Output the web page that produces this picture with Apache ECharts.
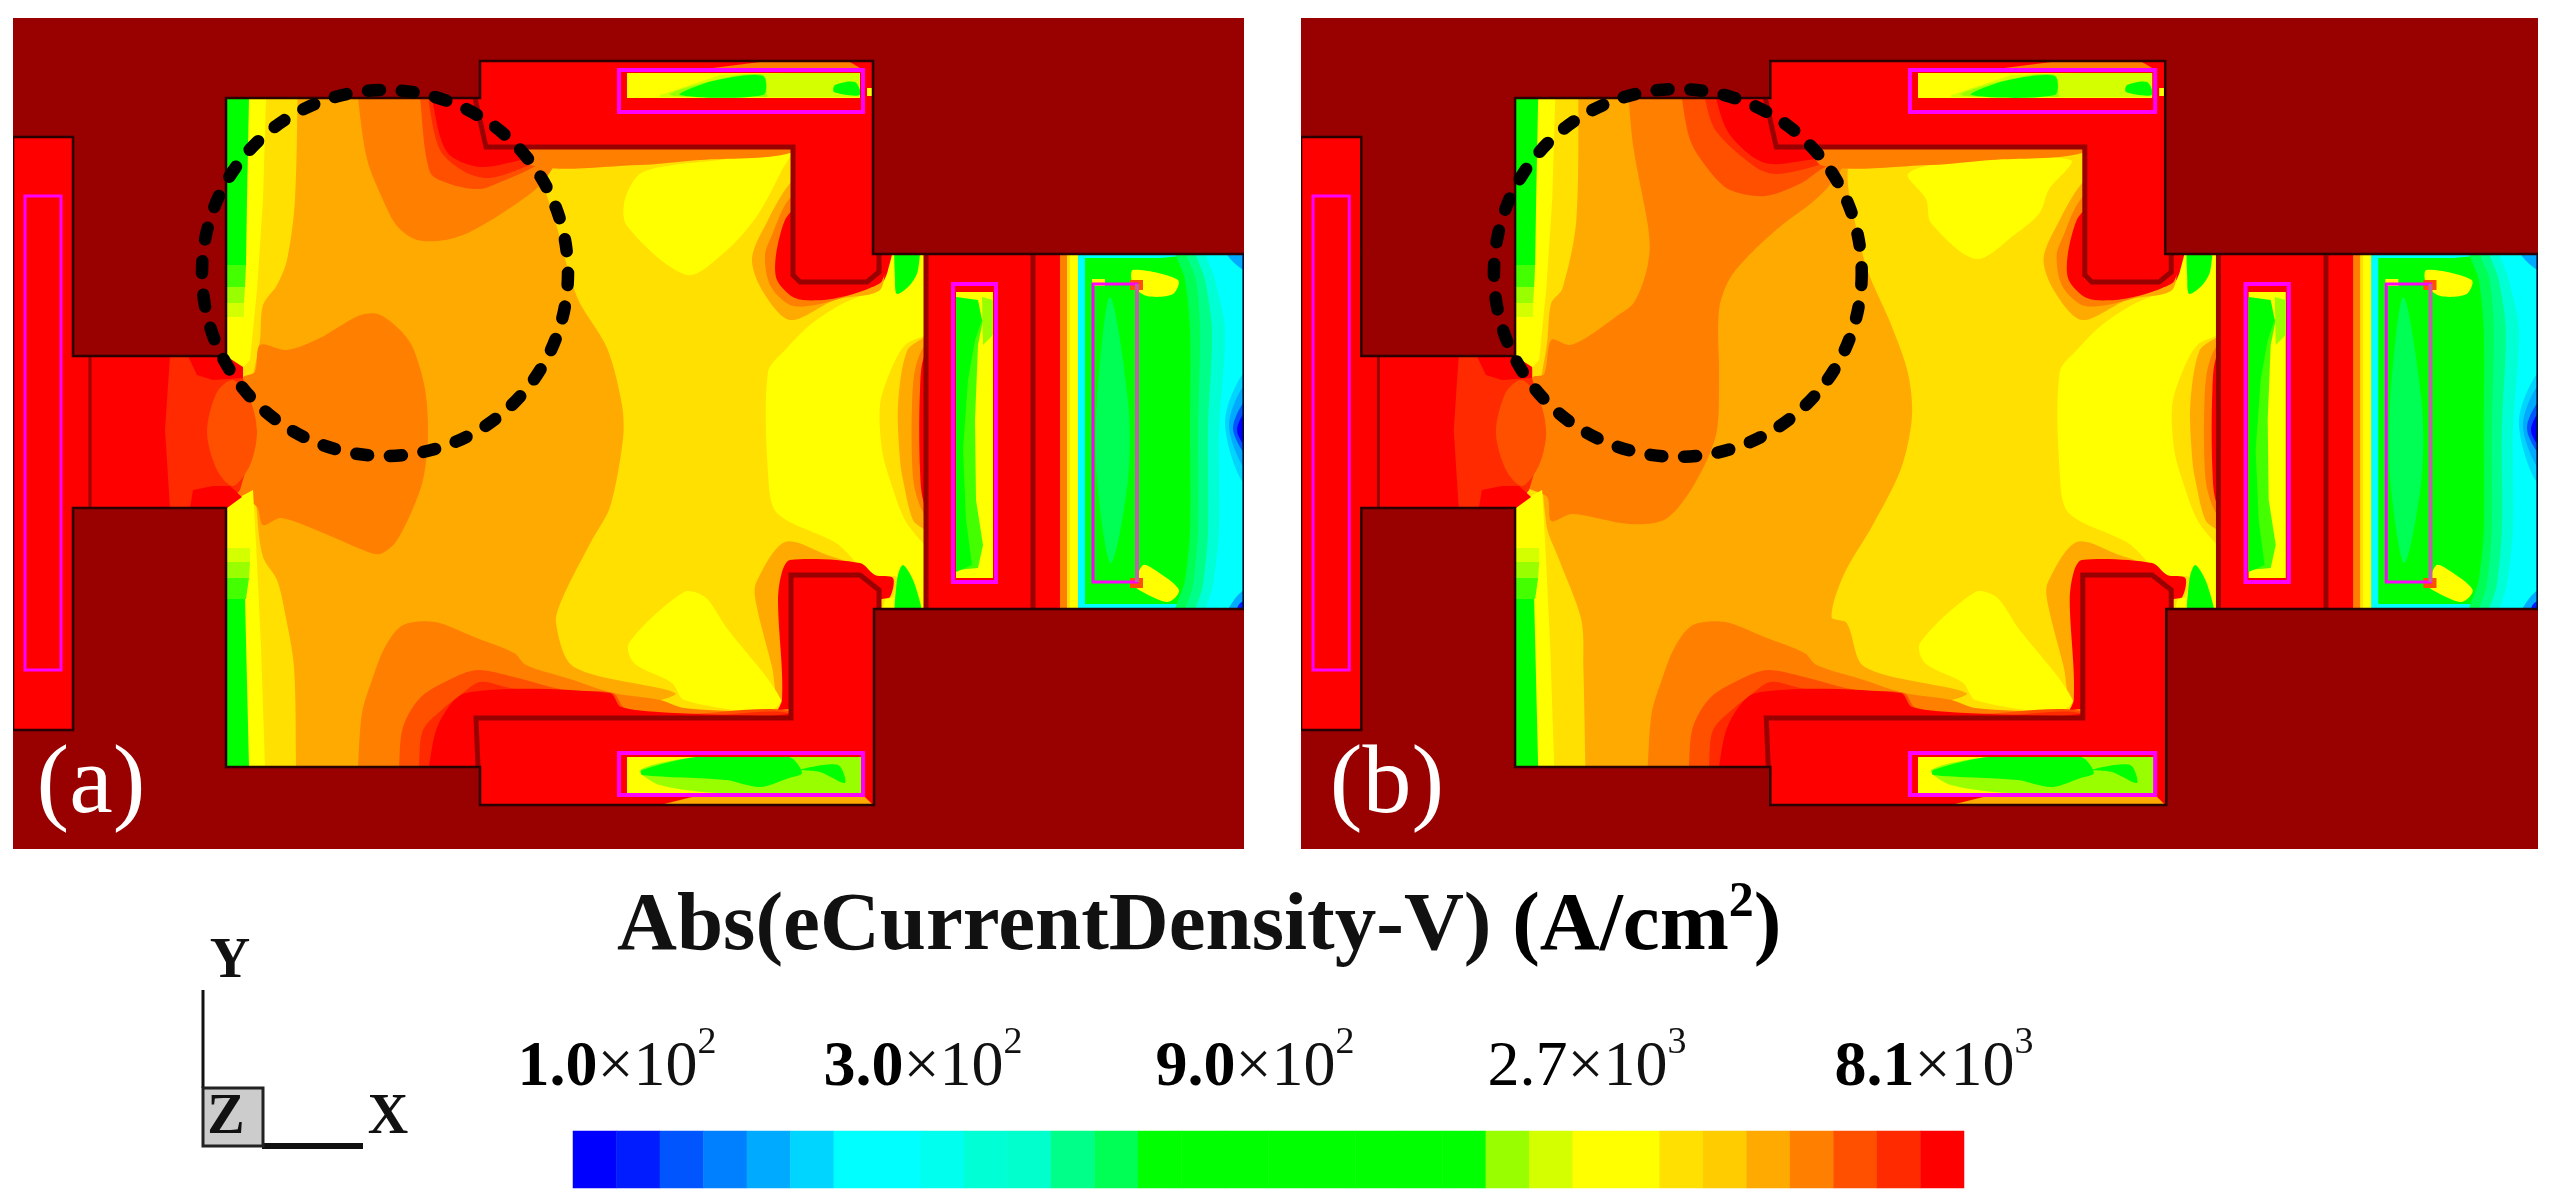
<!DOCTYPE html>
<html>
<head>
<meta charset="utf-8">
<title>Abs(eCurrentDensity-V)</title>
<script src="https://cdn.jsdelivr.net/npm/echarts@6/dist/echarts.min.js"></script>
<style>
html,body{margin:0;padding:0;background:#fff}
#chart{width:2556px;height:1203px;filter:blur(0.7px)}
</style>
</head>
<body>
<div id="chart"></div>
<script>
// colour bar, 32 levels, low to high
const barLevels = [0,1,2,3,4,5,6,7,8,9,10,11,12,13,14,15,16,17,18,19,20,21,22,23,24,25,26,27,28,29,30,31];
const levelColors = ['#0000FF','#001CFF','#0055FF','#0080FF','#00AAFF','#00D5FF','#00FFFF','#00FFFF','#00FFEE','#00FFD5','#00FFCC','#00FF88','#00FF55',
  '#00FF00','#00FF00','#00FF00','#00FF00','#00FF00','#00FF00','#00FF00','#00FF00','#99FF00','#D4FF00','#FFFF00','#FFFF00','#FFE000','#FFCC00','#FFAA00','#FF7F00','#FF5000','#FF2A00','#FF0000'];
const tickMantissas = ['1.0','3.0','9.0','2.7','8.1'];
const tickExponents = ['2','2','2','3','3'];
const tickCenters = [617,923,1255,1587,1934];
const panelTags = ['(a)','(b)'];

// outlines of the device, in the pixel frame of panel (a)
const bodyOutline = [[13,137],[73,137],[73,356],[226,356],[226,98],[480,98],[480,61],[873,61],[873,254],[1244,254],[1244,609],[874,609],[874,805],[480,805],[480,767],[226,767],[226,508],[73,508],[73,730],[13,730]];
const cavityOutline = [[226,98],[475,98],[486,147],[793,147],[793,280],[870,280],[879,270],[879,254],[926,254],[926,609],[879,609],[879,590],[860,575],[791,575],[791,718],[476,718],[476,767],[226,767]];
const guideBox = [[1034,254],[1244,254],[1244,609],[1034,609]];

// field contours, panel (a); points outside the cavity get clipped away
const amberA = [[298,70],[298,98],[560,70],[548,130],[540,168],[555,220],[577,297],[607,348],[622,405],[623,439],[610,507],[592,540],[563,597],[556,623],[574,667],[675,693],[640,705],[480,730],[476,800],[296,800],[296,767],[294,667],[285,613],[277,580],[263,557],[257,513],[250,400],[260,340],[263,305],[277,285],[287,260],[295,200]];
const orangeMidA = [[260,345],[287,350],[320,338],[358,316],[378,314],[400,330],[413,348],[425,389],[428,436],[423,480],[411,513],[395,543],[380,554],[368,552],[316,530],[281,518],[263,525],[257,507],[237,490],[257,432],[243,378],[255,372]];
const orangeTopA = [[356,70],[358,98],[367,159],[383,200],[397,226],[417,240],[445,240],[470,232],[513,206],[543,182],[560,150],[560,70]];
const ember1TopA = [[418,70],[420,98],[430,172],[450,184],[480,189],[503,181],[530,169],[560,150],[560,70]];
const ember2TopA = [[425,70],[428,98],[440,150],[465,172],[490,178],[530,165],[560,150],[560,70]];
const redTopA = [[430,70],[432,98],[447,152],[480,167],[530,159],[627,159],[663,157],[720,154],[790,150],[800,130],[800,70]];
const yellowTopA = [[643,172],[625,199],[627,226],[687,275],[727,250],[757,216],[782,170],[790,152],[720,160]];

// field contours, panel (b)
const amberB = [[289,70],[289,98],[570,70],[560,140],[557,181],[564,221],[577,271],[600,324],[617,373],[621,417],[610,469],[582,525],[553,575],[541,617],[556,623],[574,667],[675,693],[640,705],[480,730],[476,800],[296,800],[296,767],[294,667],[292,620],[270,560],[257,524],[250,400],[258,342],[262,303],[273,289],[287,220]];
const orangeMidB = [[337,70],[339,98],[344,149],[358,224],[360,249],[356,274],[344,303],[326,317],[298,337],[280,345],[262,340],[255,374],[243,378],[257,432],[237,485],[258,497],[262,521],[283,514],[340,524],[376,519],[404,485],[426,435],[429,381],[429,310],[440,278],[465,249],[493,224],[521,203],[539,185],[560,150],[560,70]];
const ember1TopB = [[390,70],[392,98],[401,142],[422,174],[440,190],[475,196],[511,183],[528,171],[560,150],[560,70]];
const ember2TopB = [[413,70],[415,98],[426,131],[465,167],[486,174],[528,165],[560,150],[560,70]];
const redTopB = [[424,70],[426,98],[440,135],[475,163],[528,159],[640,158],[720,154],[790,150],[800,130],[800,70]];
const yellowTopB = [[617,174],[660,162],[779,160],[757,190],[748,213],[724,234],[685,259],[640,223],[635,199]];

// field contours, both panels
const wallBandTop = [[530,165],[640,165],[700,160],[790,153],[800,130],[530,130]];
const amberWallUp = [[795,180],[785,190],[768,220],[752,258],[762,290],[790,320],[835,300],[880,290],[880,260],[800,260]];
const orangeWallUp = [[795,195],[785,205],[772,235],[765,255],[770,285],[790,305],[815,305],[850,295],[880,280],[880,260],[800,260]];
const redWallUp = [[795,210],[785,220],[776,255],[777,280],[795,298],[823,300],[850,295],[870,288],[882,281],[885,260],[800,260]];
const throatStub = [[876,240],[893,240],[888,270],[882,283],[872,285]];
const yellowBig = [[768,372],[785,350],[810,325],[840,305],[872,290],[885,275],[885,230],[950,230],[950,630],[885,630],[885,600],[893,597],[897,577],[875,577],[861,567],[836,543],[777,513],[768,473]];
const greenThroatUp = [[897,240],[918,240],[918,270],[910,285],[897,294],[895,280]];
const greenThroatLo = [[897,625],[897,580],[903,565],[915,585],[922,625]];
const lensGold = [[945,320],[925,335],[905,345],[890,372],[880,405],[882,450],[890,480],[905,520],[925,545],[945,560]];
const lensAmber = [[945,325],[925,337],[907,351],[898,405],[900,460],[903,480],[913,520],[925,530],[945,545]];
const lensOrange = [[945,335],[925,345],[915,370],[912,405],[912,460],[915,490],[925,515],[945,530]];
const lensRed = [[945,345],[925,355],[920,390],[920,470],[925,505],[945,520]];
const yellowLow = [[629,643],[684,592],[705,597],[726,627],[781,700],[764,712],[684,700],[672,683],[634,663]];
const amberWallLo = [[785,542],[756,583],[756,603],[772,667],[781,707],[810,707],[810,590],[870,590],[865,570],[827,555]];
const redWallLo = [[790,560],[860,563],[875,575],[893,578],[890,597],[880,600],[875,620],[810,620],[810,725],[770,725],[782,700],[778,600],[782,572]];
const orangeLow = [[356,800],[358,767],[362,713],[372,680],[385,647],[403,625],[435,622],[474,637],[514,653],[526,665],[573,680],[613,693],[660,700],[684,708],[764,712],[800,712],[800,800]];
const ember1Low = [[397,800],[399,767],[403,727],[421,697],[455,677],[478,670],[514,677],[565,690],[613,693],[625,708],[680,714],[800,716],[800,800]];
const ember2Low = [[417,800],[419,767],[423,730],[445,707],[458,697],[480,682],[510,688],[553,693],[613,700],[625,712],[700,716],[800,718],[800,800]];
const redLow = [[427,800],[429,767],[439,723],[466,693],[610,693],[621,707],[675,713],[770,716],[800,717],[800,800]];
const yellowBandUp = [[226,98],[266,98],[263,200],[257,290],[250,360],[243,368],[226,356]];
const greenBandUp = [[226,98],[249,98],[247,200],[246,265],[226,265]];
const lime1Up = [[226,265],[246,265],[245,287],[226,287]];
const lime2Up = [[226,287],[245,287],[244,303],[226,303]];
const lime3Up = [[226,303],[244,303],[244,317],[226,317]];
const yellowBandLo = [[226,508],[240,497],[253,490],[257,563],[261,647],[265,767],[226,767]];
const lime3Lo = [[226,548],[250,548],[250,562],[226,562]];
const lime2Lo = [[226,562],[250,562],[249,578],[226,578]];
const lime1Lo = [[226,578],[249,578],[246,599],[226,599]];
const greenBandLo = [[226,599],[245,599],[249,767],[226,767]];
const coaxEmber2 = [[170,356],[226,356],[243,370],[243,378],[257,432],[240,490],[226,508],[170,508],[165,430]];
const coaxLens = [[207,432],[217,392],[233,380],[250,400],[257,432],[250,465],[233,486],[217,470]];
const coaxSpikeUp = [[188,356],[197,375],[213,380],[243,378],[243,367],[226,356]];
const coaxSpikeLo = [[190,508],[193,490],[213,486],[230,486],[242,497],[227,508]];

// guide section at the right
const guideOrange = [[1060,254],[1244,254],[1244,609],[1060,609]];
const guideGold = [[1067,254],[1244,254],[1244,609],[1067,609]];
const guideYellow = [[1070,254],[1244,254],[1244,609],[1070,609]];
const guideCyan = [[1078,254],[1244,254],[1244,609],[1078,609]];
const guideGreen = [[1085,258],[1160,258],[1203,254],[1244,254],[1244,604],[1200,604],[1085,604]];
const edgeBand1 = [[1175,240],[1185,280],[1190,330],[1190,430],[1190,530],[1185,580],[1175,625],[1270,625],[1270,240]];
const edgeBand2 = [[1185,240],[1196,280],[1200,330],[1198,430],[1198,530],[1193,585],[1185,625],[1270,625],[1270,240]];
const edgeBand3 = [[1195,240],[1205,280],[1212,330],[1208,430],[1208,530],[1203,585],[1195,625],[1270,625],[1270,240]];
const edgeBand4 = [[1205,240],[1215,280],[1225,330],[1219,430],[1219,530],[1213,585],[1205,625],[1270,625],[1270,240]];
const edgeBlue1 = [[1260,362],[1240,378],[1225,422],[1240,478],[1260,490]];
const edgeBlue2 = [[1260,375],[1242,388],[1229,425],[1242,465],[1260,480]];
const edgeBlue3 = [[1260,388],[1245,400],[1233,428],[1245,455],[1260,470]];
const edgeBlue4 = [[1260,400],[1246,410],[1237,430],[1246,448],[1260,460]];
const cornerBlueUp = [[1222,240],[1228,256],[1244,270],[1260,270],[1260,240]];
const cornerBlueLo = [[1222,625],[1230,606],[1244,590],[1260,590],[1260,625]];
const cornerDeepLo = [[1236,625],[1238,606],[1246,600],[1260,600],[1260,625]];
const innerLens = [[1110,297],[1097,400],[1097,480],[1111,563],[1128,480],[1128,400]];
const blobUp = [[1133,270],[1178,280],[1173,294],[1147,296],[1133,285]];
const blobUpRed = [[1130,280],[1143,280],[1143,290],[1130,290]];
const blobLo = [[1143,565],[1155,570],[1179,590],[1168,602],[1139,590],[1135,585]];
const blobLoRed = [[1130,578],[1143,578],[1143,588],[1130,588]];
const stubYellow = [[1092,279],[1105,279],[1105,286],[1092,286]];

// slots
const midSlotYellow = [[956,292],[993,292],[993,578],[956,578]];
const midSlotLime = [[983,320],[978,345],[975,420],[976,500],[983,545],[978,568],[956,570],[956,300]];
const midSlotGreen = [[956,297],[978,300],[982,320],[975,340],[968,380],[963,450],[966,520],[972,565],[956,572]];
const midSlotTip = [[982,297],[993,300],[993,335],[983,345]];
const topSlotFill = [[627,73],[860,73],[860,98],[627,98]];
const topSlotLime1 = [[660,95],[720,75],[790,73],[860,73],[860,97],[660,97]];
const topSlotLime2 = [[670,95],[715,80],[763,75],[767,95],[767,97]];
const topSlotGreen = [[680,95],[713,81],[763,76],[763,95]];
const topSlotGreen2 = [[834,92],[835,85],[855,82],[860,95]];
const topSlotGlow = [[713,68],[760,62],[850,62],[860,68]];
const topSlotDot = [[867,88],[873,88],[873,96],[867,96]];
const lowSlotFill = [[627,757],[862,757],[862,793],[627,793]];
const lowSlotLime1 = [[700,757],[862,757],[862,793],[720,793],[660,785],[640,770]];
const lowSlotGreen = [[642,770],[697,757],[789,757],[802,773],[789,778],[760,787],[726,780],[642,775]];
const lowSlotGreen2 = [[800,770],[838,765],[845,783],[820,772]];
const lowSlotGlow = [[700,795],[863,795],[873,805],[660,805]];

// thin lines
const wallUp = [[475,98],[486,147],[793,147],[793,275],[800,282],[867,282],[879,272],[879,254]];
const wallLo = [[879,609],[879,590],[860,575],[791,575],[791,718],[476,718],[478,767]];
const coaxStep = [[90,356],[90,508]];
const guideStep1 = [[926,254],[926,609]];
const guideStep2 = [[1033,254],[1033,609]];
const guideEnd = [[1244,254],[1244,609]];
const leftFrame = [[25,196],[61,196],[61,670],[25,670]];
const topFrame = [[619,70],[863,70],[863,112],[619,112]];
const lowFrame = [[619,753],[863,753],[863,795],[619,795]];
const midFrame = [[953,284],[996,284],[996,582],[953,582]];
const rightFrame = [[1093,284],[1137,284],[1137,582],[1093,582]];
const rightFrameEdge = [[1137,284],[1137,582]];

// dashed circle: centre x, centre y, radius
const circleA = [385,273,183];
const circleB = [388,273,183];

const c = levelColors;
const lime44 = '#44FF00', magenta = '#FF00FF', wine = '#990000';

// [shape, colour, clip]: a clip outline also means the edge gets smoothed
const frontLayers = [
  [wallBandTop,c[28],cavityOutline],
  [lensGold,c[25],cavityOutline],[lensAmber,c[27],cavityOutline],[lensOrange,c[28],cavityOutline],[lensRed,c[31],cavityOutline],
  [greenThroatUp,c[16],cavityOutline],[greenThroatLo,c[16],cavityOutline],[throatStub,c[31],cavityOutline],
  [amberWallLo,c[27],cavityOutline],[redWallLo,c[31],cavityOutline],
  [yellowLow,c[23],cavityOutline],
  [orangeLow,c[28],cavityOutline],[ember1Low,c[29],cavityOutline],[ember2Low,c[30],cavityOutline],[redLow,c[31],cavityOutline],
  [amberWallUp,c[27],cavityOutline],[orangeWallUp,c[28],cavityOutline],[redWallUp,c[31],cavityOutline],
  [yellowBandUp,c[23]],[greenBandUp,c[16]],[lime1Up,lime44],[lime2Up,c[21]],[lime3Up,c[22]],
  [yellowBandLo,c[23]],[lime3Lo,c[22]],[lime2Lo,c[21]],[lime1Lo,lime44],[greenBandLo,c[16]],
  [coaxEmber2,c[30]],[coaxLens,c[29],bodyOutline],[coaxSpikeUp,c[31]],[coaxSpikeLo,c[31]],
  [guideOrange,c[28]],[guideGold,c[25]],[guideYellow,c[23]],[guideCyan,c[6]],[guideGreen,c[16]],
  [edgeBand1,c[12],guideBox],[edgeBand2,c[11],guideBox],[edgeBand3,c[9],guideBox],[edgeBand4,c[6],guideBox],
  [edgeBlue1,c[5],guideBox],[edgeBlue2,c[4],guideBox],[edgeBlue3,c[2],guideBox],[edgeBlue4,c[0],guideBox],[cornerBlueUp,c[4],guideBox],[cornerBlueLo,c[4],guideBox],[cornerDeepLo,c[1],guideBox],
  [innerLens,c[12],guideBox],[blobUp,c[23],guideBox],[blobUpRed,c[29]],[blobLo,c[23],guideBox],[blobLoRed,c[29]],[stubYellow,c[23]],
  [midSlotYellow,c[23]],[midSlotLime,lime44],[midSlotGreen,c[16]],[midSlotTip,c[21]],
  [topSlotFill,c[23]],[topSlotLime1,c[22]],[topSlotLime2,c[21],topSlotFill],[topSlotGreen,c[16],topSlotFill],[topSlotGreen2,c[16],topSlotFill],[topSlotGlow,c[28]],[topSlotDot,c[23]],
  [lowSlotFill,c[23]],[lowSlotLime1,c[21],lowSlotFill],[lowSlotGreen,c[16],lowSlotFill],[lowSlotGreen2,c[16],lowSlotFill],[lowSlotGlow,c[27]]
];
const layersA = [[bodyOutline,c[31]],[cavityOutline,c[25]],[yellowBig,c[23],cavityOutline],[amberA,c[27],cavityOutline],[yellowTopA,c[23],cavityOutline],[orangeMidA,c[28],cavityOutline],[orangeTopA,c[28],cavityOutline],[ember1TopA,c[29],cavityOutline],[ember2TopA,c[30],cavityOutline],[redTopA,c[31],cavityOutline]].concat(frontLayers);
const layersB = [[bodyOutline,c[31]],[cavityOutline,c[25]],[yellowBig,c[23],cavityOutline],[amberB,c[27],cavityOutline],[yellowTopB,c[23],cavityOutline],[orangeMidB,c[28],cavityOutline],[ember1TopB,c[29],cavityOutline],[ember2TopB,c[30],cavityOutline],[redTopB,c[31],cavityOutline]].concat(frontLayers);
const lineLayers = [
  [coaxStep,wine,3,false],[wallUp,wine,5,false],[wallLo,wine,5,false],[guideStep1,wine,5,false],[guideStep2,wine,5,false],
  [bodyOutline,'#2A0000',2.5,true],[guideEnd,'#001030',3,false],
  [leftFrame,magenta,3,true],[topFrame,magenta,4,true],[lowFrame,magenta,4,true],[midFrame,magenta,4,true],[rightFrame,magenta,3,true],[rightFrameEdge,'#C060A8',4,false]
];

function polySeries(layers, idx) {
  return {
    type:'custom', xAxisIndex:idx, yAxisIndex:idx, silent:true, clip:true,
    data:layers.map((v,i)=>[i]),
    renderItem:function(params,api){
      const l = layers[params.dataIndex];
      const el = {type:'polygon', shape:{points:l[0].map(p=>api.coord(p))}, style:{fill:l[1]}};
      if(l[2]){
        el.shape.smooth = 0.3;
        el.clipPath = {type:'polygon', shape:{points:l[2].map(p=>api.coord(p))}};
      }
      return el;
    }
  };
}
function lineSeries(idx) {
  return {
    type:'custom', xAxisIndex:idx, yAxisIndex:idx, silent:true, clip:true,
    data:lineLayers.map((v,i)=>[i]),
    renderItem:function(params,api){
      const l = lineLayers[params.dataIndex];
      const pts = l[0].map(p=>api.coord(p));
      return {type:l[3]?'polygon':'polyline', shape:{points:pts}, style:{fill:'none',stroke:l[1],lineWidth:l[2]}};
    }
  };
}
function circleSeries(circle, idx) {
  return {
    type:'custom', xAxisIndex:idx, yAxisIndex:idx, silent:true, clip:false,
    data:[circle],
    renderItem:function(params,api){
      const p = api.coord([api.value(0),api.value(1)]);
      const r = api.size([api.value(2),0])[0];
      return {type:'circle', shape:{cx:p[0],cy:p[1],r:r},
        style:{fill:'none',stroke:'#000',lineWidth:12.5,lineDash:[12,21.8],lineCap:'round'}};
    }
  };
}

const serif = '"Liberation Serif","Times New Roman",serif';
// text and the little axis triad, placed on the page grid
const pageTexts = [
  {x:91,y:786,text:panelTags[0],fill:'#fff',font:'98px '+serif,align:'center'},
  {x:1387,y:786,text:panelTags[1],fill:'#fff',font:'98px '+serif,align:'center'},
  {x:230,y:963,text:'Y',fill:'#111',font:'bold 56px '+serif,align:'center'},
  {x:226,y:1119,text:'Z',fill:'#111',font:'bold 56px '+serif,align:'center'},
  {x:388,y:1119,text:'X',fill:'#111',font:'bold 56px '+serif,align:'center'}
];

const option = {
  animation:false,
  backgroundColor:'#fff',
  title:{
    left:617, top:878, padding:0,
    text:'{a|Abs(eCurrentDensity-V) }{b|(A/cm}{s|2}{b|)}',
    textStyle:{rich:{
      a:{fontFamily:serif,fontSize:83,fontWeight:'bold',color:'#111',lineHeight:100},
      b:{fontFamily:serif,fontSize:83,fontWeight:'bold',color:'#000',lineHeight:100},
      s:{fontFamily:serif,fontSize:50,fontWeight:'bold',color:'#000',lineHeight:100,verticalAlign:'top'}
    }}
  },
  grid:[
    {left:13,top:18,width:1231,height:831},
    {left:1301,top:18,width:1237,height:831},
    {left:0,top:0,width:2556,height:1203},
    {left:573,top:1131,width:1391,height:57}
  ],
  xAxis:[
    {gridIndex:0,type:'value',min:13,max:1244,show:false},
    {gridIndex:1,type:'value',min:13,max:1244,show:false},
    {gridIndex:2,type:'value',min:0,max:2556,show:false},
    {gridIndex:3,type:'category',data:barLevels,show:false}
  ],
  yAxis:[
    {gridIndex:0,type:'value',min:18,max:849,inverse:true,show:false},
    {gridIndex:1,type:'value',min:18,max:849,inverse:true,show:false},
    {gridIndex:2,type:'value',min:0,max:1203,inverse:true,show:false},
    {gridIndex:3,type:'category',data:['bar'],show:false}
  ],
  visualMap:{
    type:'piecewise', show:false, seriesIndex:8, dimension:2,
    pieces:barLevels.map(v=>({value:v,color:levelColors[v]}))
  },
  series:[
    {type:'custom',xAxisIndex:0,yAxisIndex:0,silent:true,clip:true,data:[[13,18,1244,849]],
      renderItem:panelBack},
    polySeries(layersA,0), lineSeries(0), circleSeries(circleA,0),
    {type:'custom',xAxisIndex:1,yAxisIndex:1,silent:true,clip:true,data:[[13,18,1244,849]],
      renderItem:panelBack},
    polySeries(layersB,1), lineSeries(1), circleSeries(circleB,1),
    {type:'heatmap',xAxisIndex:3,yAxisIndex:3,silent:true,data:barLevels.map(v=>[v,0,v]),progressive:0},
    {type:'custom',xAxisIndex:2,yAxisIndex:2,silent:true,clip:false,data:[[0]],
      renderItem:function(params,api){
        const children = [];
        [[[203,990],[203,1088],3],[[262,1146],[363,1146],6]].forEach(l=>{
          const a=api.coord(l[0]),b=api.coord(l[1]);
          children.push({type:'line',shape:{x1:a[0],y1:a[1],x2:b[0],y2:b[1]},style:{stroke:'#111',lineWidth:l[2]}});
        });
        const o=api.coord([203,1088]);
        children.push({type:'rect',shape:{x:o[0],y:o[1],width:60,height:58},style:{fill:'#CCCCCC',stroke:'#222',lineWidth:3}});
        pageTexts.forEach(t=>{
          const p=api.coord([t.x,t.y]);
          children.push({type:'text',x:p[0],y:p[1],style:{text:t.text,fill:t.fill,font:t.font,align:t.align,verticalAlign:'middle'}});
        });
        tickMantissas.forEach((m,i)=>{
          const p=api.coord([tickCenters[i],1062]);
          children.push({type:'text',x:p[0],y:p[1],style:{
            text:'{m|'+m+'}{x|×10}{s|'+tickExponents[i]+'}',align:'center',verticalAlign:'middle',
            rich:{
              m:{fontFamily:serif,fontSize:64,fontWeight:i==3?'normal':'bold',fill:'#000',lineHeight:76,verticalAlign:'bottom'},
              x:{fontFamily:serif,fontSize:64,fill:'#111',lineHeight:76,verticalAlign:'bottom'},
              s:{fontFamily:serif,fontSize:38,fill:'#111',lineHeight:76,verticalAlign:'top'}
            }}});
        });
        return {type:'group',children:children};
      }}
  ]
};
function panelBack(params,api){
  const a=api.coord([api.value(0),api.value(1)]), b=api.coord([api.value(2),api.value(3)]);
  return {type:'rect',shape:{x:a[0],y:a[1],width:b[0]-a[0],height:b[1]-a[1]},style:{fill:wine}};
}
echarts.init(document.getElementById('chart')).setOption(option);
</script>
</body>
</html>
